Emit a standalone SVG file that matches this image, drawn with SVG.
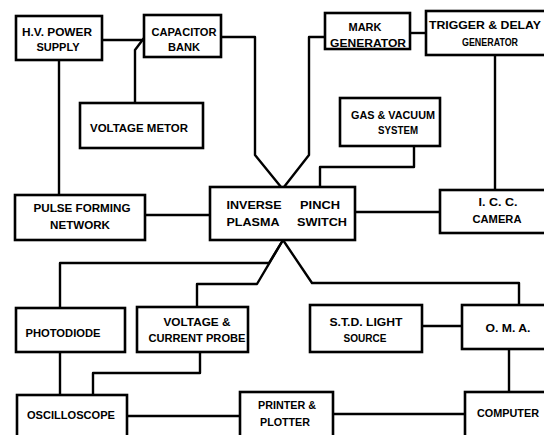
<svg xmlns="http://www.w3.org/2000/svg" width="544" height="435" viewBox="0 0 544 435">
<style>
.b{fill:#fff;stroke:#000;stroke-width:2.6}
.c{fill:none;stroke:#000;stroke-width:2.4;stroke-linejoin:round}
text{font-family:"Liberation Sans",Arial,sans-serif;font-weight:bold;font-size:10px;fill:#000;text-anchor:middle}
</style>
<rect width="544" height="435" fill="#fff"/>
<g id="connectors">
<path class="c" d="M102,40 H144"/>
<path class="c" d="M144,38 L135,50 V103"/>
<path class="c" d="M59,60 V195"/>
<path class="c" d="M221,37 H255 V155 L281,187"/>
<path class="c" d="M325,37 H309 V155 L284,187"/>
<path class="c" d="M410,33 H426"/>
<path class="c" d="M495,55 V190"/>
<path class="c" d="M414,146 V167 H320 V187"/>
<path class="c" d="M145,215 H210"/>
<path class="c" d="M355,212 H440"/>
<path class="c" d="M283,240 L269,263 H60 V308"/>
<path class="c" d="M283,240 L257,284 H197 V307"/>
<path class="c" d="M283,240 L312,283 H519 V305"/>
<path class="c" d="M60,352 V395"/>
<path class="c" d="M200,352 V373 H93 V395"/>
<path class="c" d="M127,416 H240"/>
<path class="c" d="M333,414 H465"/>
<path class="c" d="M422,326 H462"/>
<path class="c" d="M509,349 V392"/>
</g>
<g id="hv"><rect class="b" x="16" y="16" width="86" height="44"/><text x="57" y="36" textLength="70" lengthAdjust="spacingAndGlyphs">H.V. POWER</text><text x="58" y="51" textLength="43" lengthAdjust="spacingAndGlyphs">SUPPLY</text></g>
<g id="cap"><rect class="b" x="144" y="15" width="77" height="42"/><text x="184" y="36" textLength="65" lengthAdjust="spacingAndGlyphs">CAPACITOR</text><text x="184" y="51" textLength="32" lengthAdjust="spacingAndGlyphs">BANK</text></g>
<g id="vm"><rect class="b" x="80" y="103" width="123" height="45"/><text x="139" y="132" textLength="98" lengthAdjust="spacingAndGlyphs">VOLTAGE METOR</text></g>
<g id="mark"><rect class="b" x="325" y="13" width="85" height="36"/><text x="365" y="31" textLength="33" lengthAdjust="spacingAndGlyphs">MARK</text><text x="368" y="47" textLength="76" lengthAdjust="spacingAndGlyphs">GENERATOR</text></g>
<g id="trig"><rect class="b" x="426" y="11" width="125" height="44"/><text x="485" y="29" textLength="112" lengthAdjust="spacingAndGlyphs">TRIGGER &amp; DELAY</text><text x="490" y="46" textLength="56" lengthAdjust="spacingAndGlyphs">GENERATOR</text></g>
<g id="gas"><rect class="b" x="340" y="98" width="100" height="48"/><text x="393" y="119" textLength="84" lengthAdjust="spacingAndGlyphs">GAS &amp; VACUUM</text><text x="398" y="134" textLength="40" lengthAdjust="spacingAndGlyphs">SYSTEM</text></g>
<g id="pfn"><rect class="b" x="15" y="195" width="130" height="45"/><text x="82" y="212" textLength="97" lengthAdjust="spacingAndGlyphs">PULSE FORMING</text><text x="80" y="229" textLength="60" lengthAdjust="spacingAndGlyphs">NETWORK</text></g>
<g id="switch"><rect class="b" x="210" y="187" width="145" height="53"/><text x="254" y="209" textLength="55" lengthAdjust="spacingAndGlyphs">INVERSE</text><text x="320" y="209" textLength="40" lengthAdjust="spacingAndGlyphs">PINCH</text><text x="253" y="226" textLength="53" lengthAdjust="spacingAndGlyphs">PLASMA</text><text x="322" y="226" textLength="50" lengthAdjust="spacingAndGlyphs">SWITCH</text></g>
<g id="icc"><rect class="b" x="440" y="190" width="115" height="43"/><text x="498" y="206" textLength="39" lengthAdjust="spacingAndGlyphs">I. C. C.</text><text x="497" y="223" textLength="49" lengthAdjust="spacingAndGlyphs">CAMERA</text></g>
<g id="photo"><rect class="b" x="16" y="308" width="109" height="44"/><text x="63" y="337" textLength="75" lengthAdjust="spacingAndGlyphs">PHOTODIODE</text></g>
<g id="probe"><rect class="b" x="137" y="307" width="111" height="45"/><text x="197" y="326" textLength="67" lengthAdjust="spacingAndGlyphs">VOLTAGE &amp;</text><text x="197" y="342" textLength="97" lengthAdjust="spacingAndGlyphs">CURRENT PROBE</text></g>
<g id="std"><rect class="b" x="310" y="305" width="112" height="47"/><text x="366" y="326" textLength="73" lengthAdjust="spacingAndGlyphs">S.T.D. LIGHT</text><text x="365" y="342" textLength="43" lengthAdjust="spacingAndGlyphs">SOURCE</text></g>
<g id="oma"><rect class="b" x="462" y="305" width="95" height="44"/><text x="508" y="332" textLength="45" lengthAdjust="spacingAndGlyphs">O. M. A.</text></g>
<g id="osc"><rect class="b" x="17" y="395" width="110" height="50"/><text x="71" y="419" textLength="88" lengthAdjust="spacingAndGlyphs">OSCILLOSCOPE</text></g>
<g id="printer"><rect class="b" x="240" y="392" width="93" height="50"/><text x="287" y="409" textLength="58" lengthAdjust="spacingAndGlyphs">PRINTER &amp;</text><text x="285" y="426" textLength="50" lengthAdjust="spacingAndGlyphs">PLOTTER</text></g>
<g id="computer"><rect class="b" x="465" y="392" width="95" height="50"/><text x="508" y="417" textLength="62" lengthAdjust="spacingAndGlyphs">COMPUTER</text></g>
</svg>
